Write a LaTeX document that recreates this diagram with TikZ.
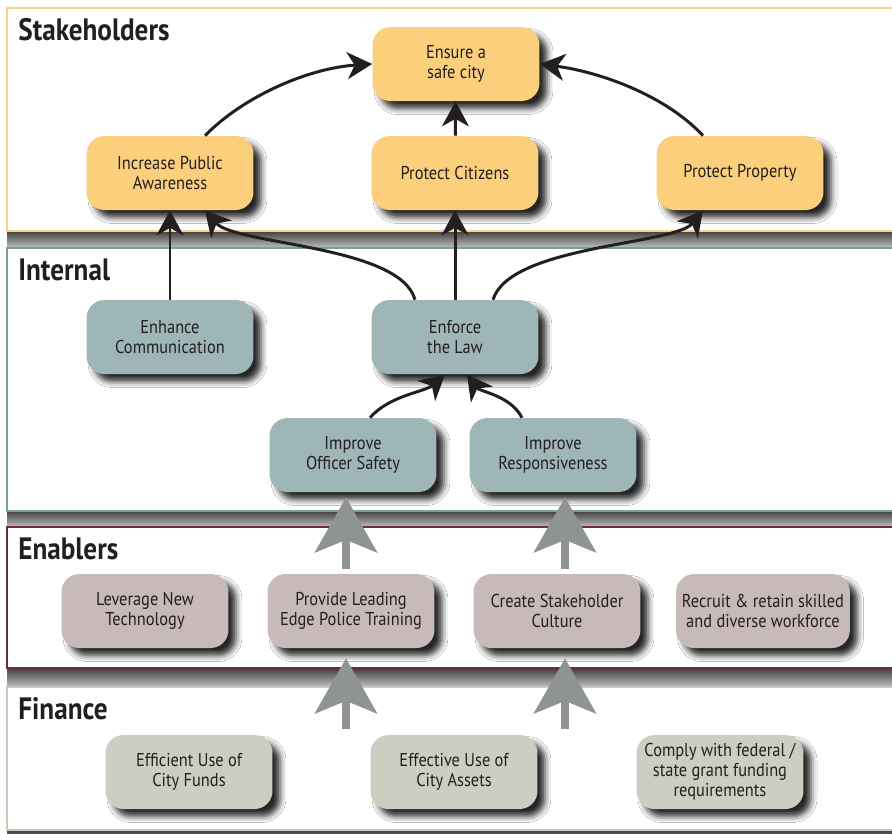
\documentclass[tikz,border=0pt]{standalone}
\usepackage{fontspec}
\setmainfont{PT Sans}[FakeStretch=0.88]
\usetikzlibrary{arrows.meta,calc,shadows.blur}
\definecolor{ink}{HTML}{231F20}
\definecolor{stakefill}{HTML}{FCCF7C}
\definecolor{intfill}{HTML}{9EB6B8}
\definecolor{enabfill}{HTML}{C9BABA}
\definecolor{finfill}{HTML}{CDCEC1}
\definecolor{stakeline}{HTML}{F6D28F}
\definecolor{intline}{HTML}{7C9E9F}
\definecolor{enabline}{HTML}{6E2B46}
\definecolor{finline}{HTML}{C9CABC}
\definecolor{liftgray}{HTML}{8F9394}
\begin{document}
\begin{tikzpicture}[x=0.02cm,y=-0.02cm]
  \tikzstyle{goal}=[rounded corners=0.36cm,minimum width=3.34cm,minimum height=1.48cm,align=center,text=ink,
    font=\fontsize{10.6}{11.4}\selectfont,
    blur shadow={shadow xshift=1.5mm,shadow yshift=-1.5mm,shadow blur radius=1.2mm,shadow opacity=85}]
  \tikzstyle{flow}=[draw=ink,line width=1.7pt,-{Stealth[length=5mm,width=5.4mm,inset=1.5mm]}]
  \tikzstyle{lift}=[draw=liftgray,line width=0.16cm,-{Stealth[length=1.1cm,width=1.24cm,inset=0.25cm]}]
  \tikzstyle{band}=[line width=0.8pt]
  \tikzstyle{bandshade}=[top color=black!75,bottom color=black!25,draw=none]
  \tikzstyle{title}=[anchor=base west,font=\bfseries\fontsize{17.6}{17.6}\selectfont,text=ink,inner sep=0pt]

  \clip (0,0) rectangle (892,833);
  \fill[white] (0,0) rectangle (892,833);
  % shadows under the bands
  \shade[bandshade] (7,231) rectangle (900,248);
  \shade[bandshade] (7,511) rectangle (900,527);
  \shade[bandshade] (7,668) rectangle (900,687);
  \shade[bandshade] (7,830) rectangle (900,850);
  % bands
  \draw[band,draw=stakeline] (7,8) rectangle (905,231);
  \draw[band,draw=intline] (7,248) rectangle (905,511);
  \draw[band,draw=enabline] (7,527) rectangle (905,668);
  \draw[band,draw=finline] (7,687) rectangle (905,830);
  \node[title] (tstake) at (18,40) {Stakeholders};
  \node[title] (tint) at (18,280) {Internal};
  \node[title] (tenab) at (18,559) {Enablers};
  \node[title] (tfin) at (18,719) {Finance};

  % stakeholders
  \node[goal,fill=stakefill] (ensure) at (456,64) {Ensure a\\safe city};
  \node[goal,fill=stakefill] (aware) at (170,173) {Increase Public\\Awareness};
  \node[goal,fill=stakefill] (citizens) at (455,173) {Protect Citizens};
  \node[goal,fill=stakefill] (property) at (740,173) {Protect Property};
  % internal
  \node[goal,fill=intfill] (comm) at (170,337) {Enhance\\Communication};
  \node[goal,fill=intfill] (law) at (455,337) {Enforce\\the Law};
  \node[goal,fill=intfill] (safety) at (353,455) {Improve\\Officer Safety};
  \node[goal,fill=intfill] (resp) at (553,455) {Improve\\Responsiveness};
  % enablers
  \node[goal,fill=enabfill] (tech) at (145,611) {Leverage New\\Technology};
  \node[goal,fill=enabfill] (train) at (351,611) {Provide Leading\\Edge Police Training};
  \node[goal,fill=enabfill] (culture) at (557,611) {Create Stakeholder\\Culture};
  \node[goal,fill=enabfill] (staff) at (763,611) {Recruit \& retain skilled\\and diverse workforce};
  % finance
  \node[goal,fill=finfill] (funds) at (189,772) {Efficient Use of\\City Funds};
  \node[goal,fill=finfill] (assets) at (454,772) {Effective Use of\\City Assets};
  \node[goal,fill=finfill] (grants) at (720,772) {Comply with federal /\\state grant funding\\requirements};

  \draw[flow] ($(aware.north)+(35,0)$) .. controls (245,95) and (310,68) .. (ensure.west);
  \draw[flow] ($(property.north)+(-37,0)$) .. controls (665,95) and (600,72) .. (ensure.east);
  \draw[flow] (citizens) -- (ensure);
  \draw[flow] (comm) -- (aware);
  \draw[flow] ($(law.north)+(-40,0)$) .. controls (400,245) and (235,245) .. ($(aware.south)+(35,0)$);
  \draw[flow] (law) -- (citizens);
  \draw[flow] ($(law.north)+(38,0)$) .. controls (510,245) and (675,245) .. ($(property.south)+(-37,0)$);
  \draw[flow] ($(safety.north)+(17,0)$) .. controls (390,395) and (425,392) .. ($(law.south)+(-10,0)$);
  \draw[flow] ($(resp.north)+(-31,0)$) .. controls (510,395) and (480,392) .. ($(law.south)+(12,0)$);

  \coordinate (fin1) at (346,729);
  \coordinate (fin2) at (565,729);
  \draw[lift] ($(train.north)+(-5,-5)$) -- ($(safety.south)+(-7,5)$);
  \draw[lift] ($(culture.north)+(8,-5)$) -- ($(resp.south)+(12,5)$);
  \draw[lift] (fin1) -- ($(train.south)+(-5,10)$);
  \draw[lift] (fin2) -- ($(culture.south)+(8,10)$);
\end{tikzpicture}
\end{document}
